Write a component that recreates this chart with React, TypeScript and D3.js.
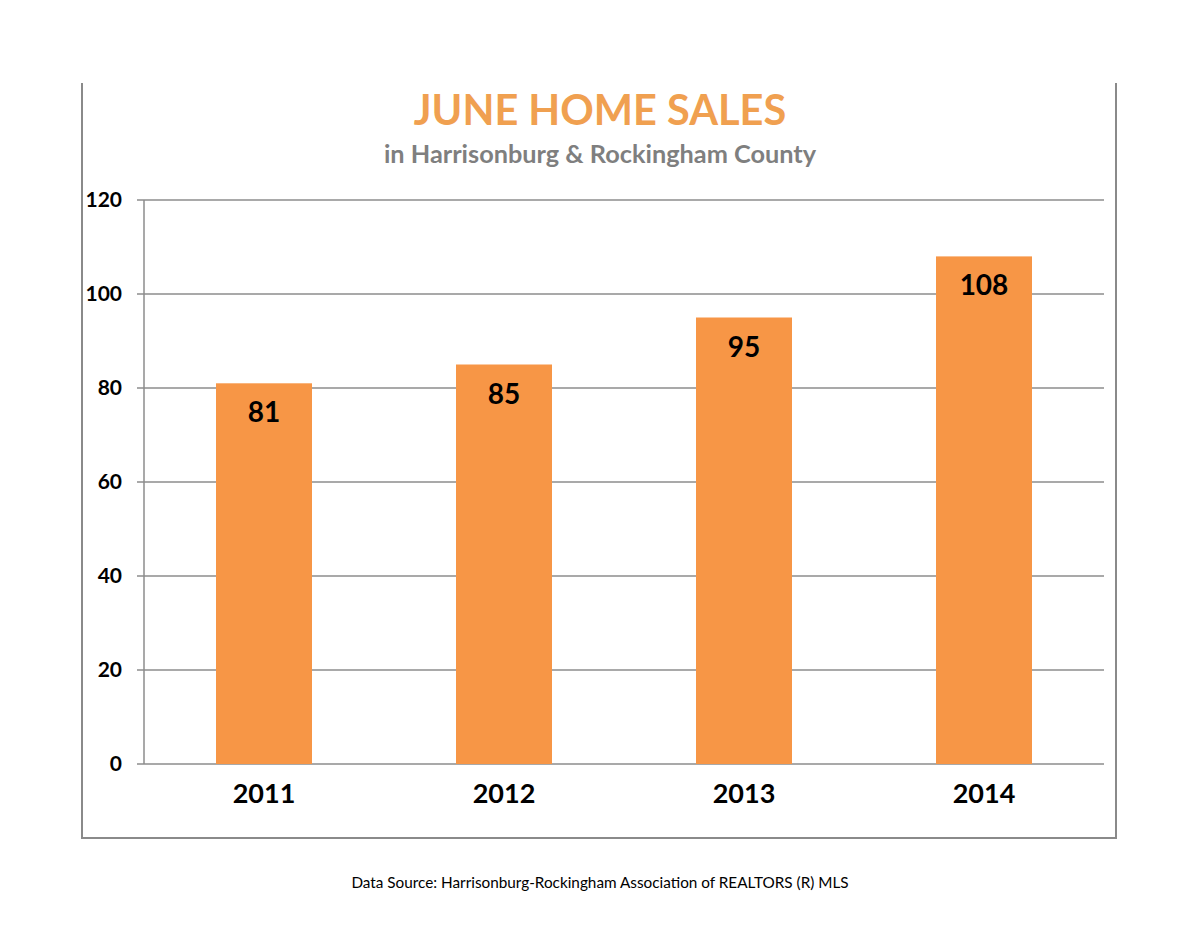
import { scaleBand, scaleLinear } from 'd3';

// Chart data
const years = ['2011', '2012', '2013', '2014'];
const sales = [81, 85, 95, 108];
const yTicks = [0, 20, 40, 60, 80, 100, 120];

const title = 'JUNE HOME SALES';
const subtitle = 'in Harrisonburg & Rockingham County';
const source = 'Data Source: Harrisonburg-Rockingham Association of REALTORS (R) MLS';

function App() {
    // Set dimensions
    const width = 1200;
    const height = 928;
    const plot = { left: 144, right: 1104, top: 200, bottom: 764 };
    const font = 'Lato, "Open Sans", sans-serif';
    const orange = '#F79646';
    const gridColor = '#8c8c8c';

    // Set scales
    const x = scaleBand().domain(years).range([plot.left, plot.right]).paddingInner(0.6).paddingOuter(0.3);
    const y = scaleLinear().domain([0, 120]).range([plot.bottom, plot.top]);

    return (
        <svg
            width={width}
            height={height}
            viewBox={`0 0 ${width} ${height}`}
            style={{ position: 'absolute', left: 0, top: 0, background: '#fff' }}
            fontFamily={font}
        >
            {/* Outer frame, no top edge */}
            <path d="M82,83 V838 H1116 V83" fill="none" stroke="#8a8a8a" strokeWidth={2} />

            <text x={600} y={125} textAnchor="middle" fontSize={41.5} fontWeight={700} fill="#F0A050">
                {title}
            </text>
            <text x={600} y={163} textAnchor="middle" fontSize={25.3} fontWeight={700} fill="#7f7f7f">
                {subtitle}
            </text>

            {/* Gridlines and y labels */}
            {yTicks.map((t) => (
                <g key={t}>
                    <line x1={plot.left - 7} x2={plot.right} y1={y(t)} y2={y(t)} stroke={gridColor} strokeWidth={1.5} />
                    <text x={122} y={y(t)} dy="0.35em" textAnchor="end" fontSize={21} fontWeight={700} fill="#000">
                        {t}
                    </text>
                </g>
            ))}
            <line x1={plot.left} x2={plot.left} y1={plot.top} y2={plot.bottom} stroke={gridColor} strokeWidth={1.5} />

            {/* Bars */}
            {years.map((yr, i) => (
                <g key={yr}>
                    <rect
                        x={x(yr)}
                        y={y(sales[i])}
                        width={x.bandwidth()}
                        height={plot.bottom - y(sales[i])}
                        fill={orange}
                    />
                    <text
                        x={(x(yr) ?? 0) + x.bandwidth() / 2}
                        y={y(sales[i]) + 39}
                        textAnchor="middle"
                        fontSize={28}
                        fontWeight={700}
                        fill="#000"
                    >
                        {sales[i]}
                    </text>
                    <text
                        x={(x(yr) ?? 0) + x.bandwidth() / 2}
                        y={803}
                        textAnchor="middle"
                        fontSize={27}
                        fontWeight={700}
                        fill="#000"
                    >
                        {yr}
                    </text>
                </g>
            ))}

            <text x={600} y={888} textAnchor="middle" fontSize={15.3} fill="#000">
                {source}
            </text>
        </svg>
    );
}

export default App;
